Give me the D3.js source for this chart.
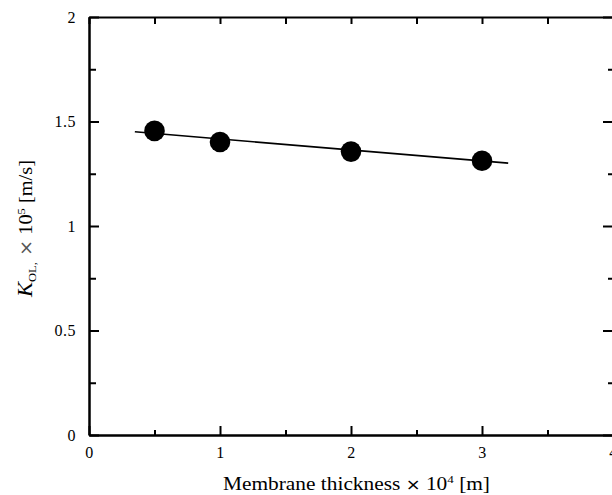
<!DOCTYPE html>
<html>
<head>
<meta charset="utf-8">
<script src="https://cdn.jsdelivr.net/npm/d3@7"></script>
<style>
  body { margin: 0; background: #fff; }
  text { font-family: "Liberation Serif", "Times New Roman", serif; }
</style>
</head>
<body>
<svg id="chart"></svg>
<script>
// data
const thickness = [0.5, 1, 2, 3];          // x 10^4 m
const kol = [1.455, 1.402, 1.356, 1.312];  // x 10^5 m/s
const fitX = [0.35, 3.2];
const fitSlope = -0.0526;
const fitIntercept = 1.469;
const xTicks = [0, 1, 2, 3, 4];
const xMinor = [0.5, 1.5, 2.5, 3.5];
const yTicks = [0, 0.5, 1, 1.5, 2];
const yMinor = [0.25, 0.75, 1.25, 1.75];

const svg = d3.select("#chart")
    .attr("width", 612)
    .attr("height", 495);

const x = d3.scaleLinear().domain([0, 4]).range([89, 613]);
const y = d3.scaleLinear().domain([0, 2]).range([435, 17]);

function styleAxis(g) {
    g.select(".domain").attr("stroke", "#000").attr("stroke-width", 2);
    g.selectAll(".tick line").attr("stroke", "#000").attr("stroke-width", 2);
    g.selectAll(".tick text")
        .attr("fill", "#000")
        .style("font-family", "Liberation Serif")
        .style("font-size", "16px")
        .style("letter-spacing", "0.5px");
}

// bottom axis
svg.append("g")
    .attr("transform", `translate(0,${y(0)})`)
    .call(d3.axisBottom(x).tickValues(xTicks).tickFormat(d3.format("d"))
        .tickSizeInner(-9).tickSizeOuter(0).tickPadding(12))
    .call(styleAxis);
svg.append("g")
    .attr("transform", `translate(0,${y(0)})`)
    .call(d3.axisBottom(x).tickValues(xMinor).tickFormat("")
        .tickSizeInner(-5).tickSizeOuter(0))
    .call(styleAxis);

// top axis
svg.append("g")
    .attr("transform", `translate(0,${y(2)})`)
    .call(d3.axisTop(x).tickValues(xTicks.concat(xMinor)).tickFormat("")
        .tickSizeInner(-7).tickSizeOuter(0))
    .call(styleAxis);

// left axis
svg.append("g")
    .attr("transform", `translate(${x(0)},0)`)
    .call(d3.axisLeft(y).tickValues(yTicks).tickFormat(d => d)
        .tickSizeInner(-10).tickSizeOuter(0).tickPadding(13))
    .call(styleAxis);
svg.append("g")
    .attr("transform", `translate(${x(0)},0)`)
    .call(d3.axisLeft(y).tickValues(yMinor).tickFormat("")
        .tickSizeInner(-7).tickSizeOuter(0))
    .call(styleAxis);

// right axis
svg.append("g")
    .attr("transform", `translate(${x(4)},0)`)
    .call(d3.axisRight(y).tickValues(yTicks).tickFormat("")
        .tickSizeInner(-10).tickSizeOuter(0))
    .call(styleAxis);
svg.append("g")
    .attr("transform", `translate(${x(4)},0)`)
    .call(d3.axisRight(y).tickValues(yMinor).tickFormat("")
        .tickSizeInner(-5).tickSizeOuter(0))
    .call(styleAxis);

// fitted line
const line = d3.line()
    .x(d => x(d))
    .y(d => y(fitIntercept + fitSlope * d));

svg.append("path")
    .datum(fitX)
    .attr("d", line)
    .attr("fill", "none")
    .attr("stroke", "#000")
    .attr("stroke-width", 1.6);

// points
svg.append("g")
    .selectAll("circle")
    .data(thickness)
    .join("circle")
    .attr("cx", d => x(d))
    .attr("cy", (d, i) => y(kol[i]))
    .attr("r", 10.3)
    .attr("fill", "#000");

// x title
const xt = svg.append("text")
    .attr("x", 223)
    .attr("y", 490)
    .attr("textLength", 267)
    .attr("lengthAdjust", "spacingAndGlyphs")
    .style("font-size", "18px")
    .attr("fill", "#000");
xt.append("tspan").text("Membrane thickness ");
xt.append("tspan").text("×").style("font-family", "DejaVu Sans").style("font-size", "15px");
xt.append("tspan").text("  10");
xt.append("tspan").text("4").attr("dy", -7).style("font-size", "11px");
xt.append("tspan").text(" [m]").attr("dy", 7);

// y title
const yt = svg.append("text")
    .attr("transform", "translate(32,297) rotate(-90)")
    .attr("textLength", 137)
    .attr("lengthAdjust", "spacingAndGlyphs")
    .style("font-size", "18px")
    .attr("fill", "#000");
yt.append("tspan").text("K").style("font-style", "italic").style("font-size", "20px");
yt.append("tspan").text("OL,").attr("dy", 4).style("font-size", "11px");
yt.append("tspan").text(" ×").attr("dy", -4).style("font-family", "DejaVu Sans").style("font-size", "17px").attr("fill", "#555");
yt.append("tspan").text(" 10");
yt.append("tspan").text("5").attr("dy", -7).style("font-size", "11px");
yt.append("tspan").text(" [m/s]").attr("dy", 7);
</script>
</body>
</html>
